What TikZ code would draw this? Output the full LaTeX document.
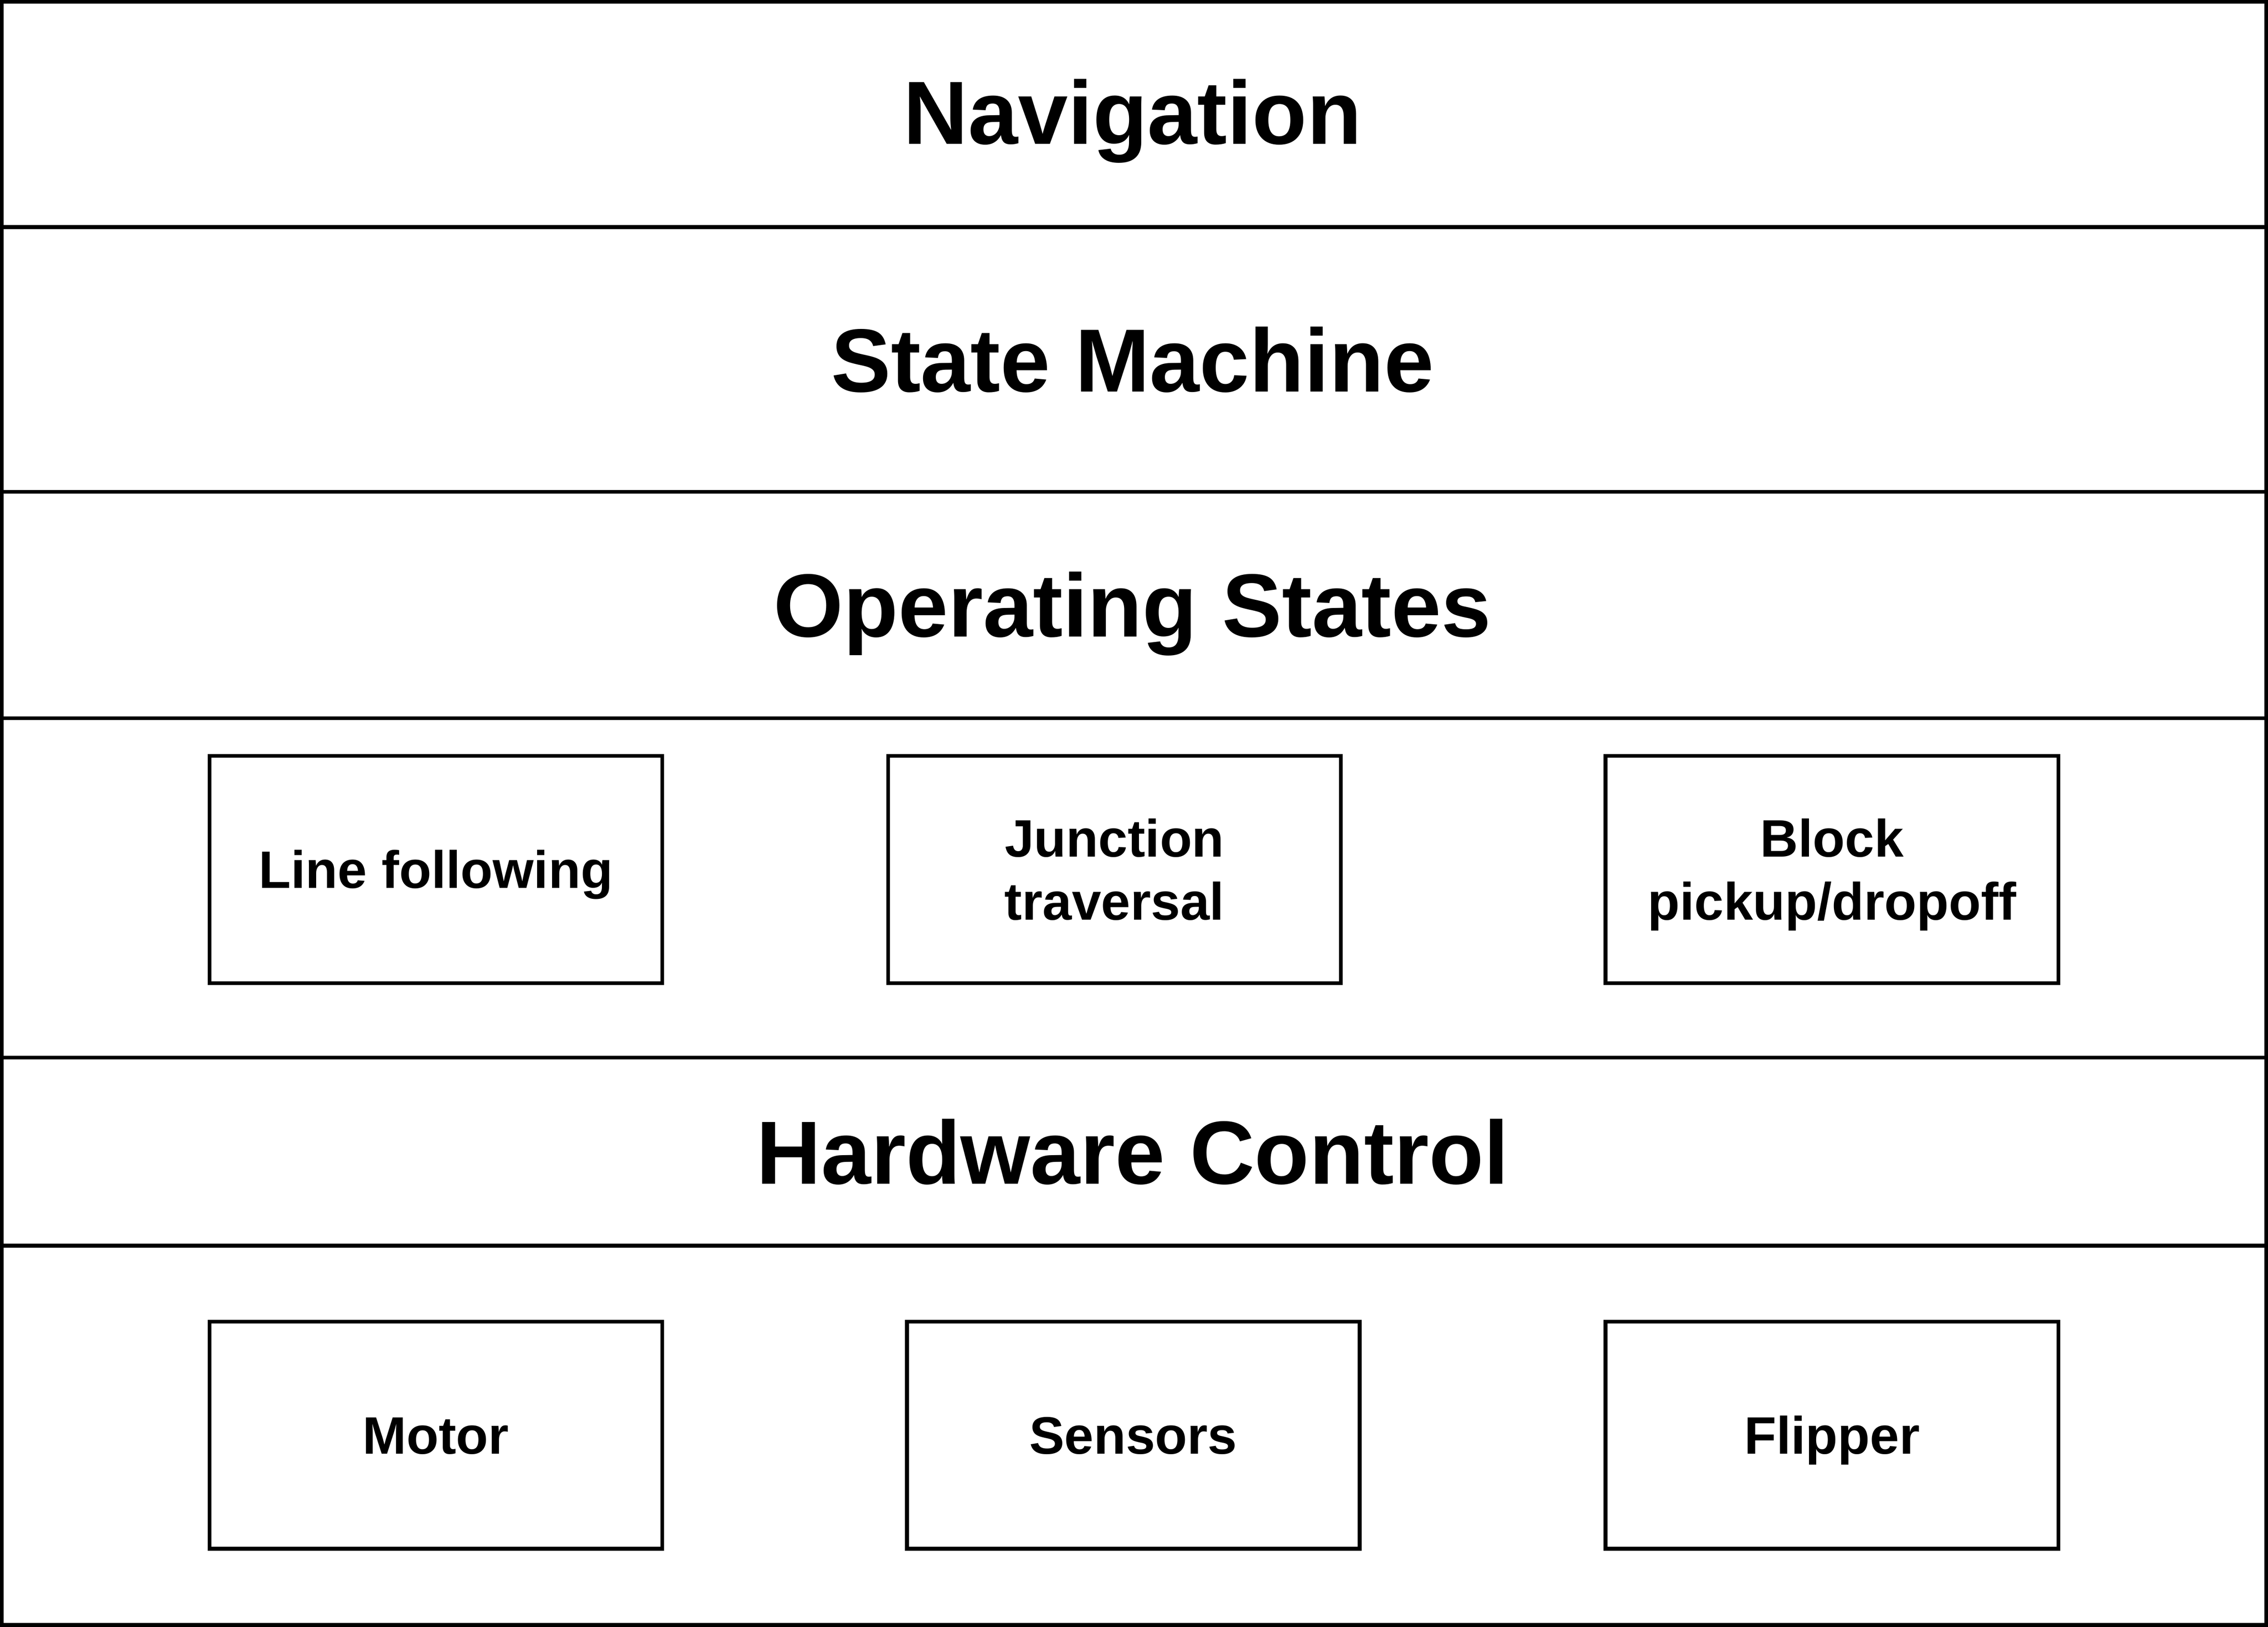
\documentclass[tikz,border=0pt]{standalone}
\usepackage{fontspec}
\setmainfont{Liberation Sans}
\begin{document}
\begin{tikzpicture}[x=0.5pt,y=-0.5pt,
  line width=1.3pt,
  layer/.style={font=\bfseries\fontsize{31}{37}\selectfont, align=center, inner sep=0pt, text height=22.2pt, text depth=0pt},
  unit/.style={draw, minimum width=156.5pt, minimum height=78.5pt, inner sep=0pt, align=center, font=\bfseries\fontsize{18.2}{21.8}\selectfont, text height=13pt, text depth=0pt},
  unittwo/.style={unit, text height=34.8pt, text depth=0pt}
]
\useasboundingbox (0,0) rectangle (1568,1124.4);
\draw (1.3,1.3) rectangle (1566.7,1123.1);
\draw (0,157) -- (1568,157);
\draw (0,340) -- (1568,340);
\draw (0,496.5) -- (1568,496.5);
\draw (0,731) -- (1568,731);
\draw (0,861) -- (1568,861);
\node[layer] (nav) at (783,77.5) {Navigation};
\node[layer] (sm) at (783,248.5) {State Machine};
\node[layer] (os) at (783,418) {Operating States};
\node[layer] (hc) at (783,796) {Hardware Control};
\node[unit] (lf) at (301.3,601) {Line following};
\node[unittwo] (jt) at (770.5,601) {Junction\\traversal};
\node[unittwo] (bp) at (1266.5,601) {Block\\pickup/dropoff};
\node[unit] (mo) at (301.3,992) {Motor};
\node[unit] (se) at (783.5,992) {Sensors};
\node[unit] (fl) at (1266.5,992) {Flipper};
\end{tikzpicture}
\end{document}
